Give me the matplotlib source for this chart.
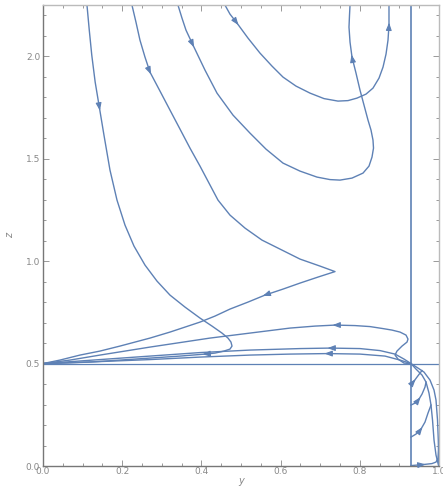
import numpy as np
import matplotlib.pyplot as plt
from matplotlib.ticker import MultipleLocator

# streamlines, points listed in flow direction (y, z)
curve_a = [(0.1111, 2.2488), (0.1169, 2.1268), (0.1232, 2.0049), (0.1318, 1.8732), (0.1427, 1.7463),
           (0.1540, 1.6146), (0.1692, 1.4439), (0.1869, 1.2976), (0.2071, 1.1756), (0.2298, 1.0732),
           (0.2576, 0.9805), (0.2879, 0.9024), (0.3207, 0.8341), (0.3586, 0.7756), (0.3965, 0.7220),
           (0.4268, 0.6829), (0.4520, 0.6488), (0.4672, 0.6244), (0.4747, 0.6049), (0.4773, 0.5854),
           (0.4722, 0.5707), (0.4571, 0.5610), (0.4343, 0.5512), (0.4091, 0.5463), (0.3460, 0.5366),
           (0.2702, 0.5268), (0.1944, 0.5171), (0.1187, 0.5073), (0.0429, 0.5020), (0.0, 0.5)]
curve_b = [(0.2247, 2.2488), (0.2348, 2.1659), (0.2449, 2.0780), (0.2576, 1.9951), (0.2702, 1.9220),
           (0.2955, 1.8293), (0.3207, 1.7366), (0.3460, 1.6439), (0.3712, 1.5512), (0.3965, 1.4634),
           (0.4192, 1.3805), (0.4419, 1.2976), (0.4722, 1.2244), (0.5101, 1.1610), (0.5530, 1.1024),
           (0.6035, 1.0537), (0.6490, 1.0098), (0.6995, 0.9756), (0.7374, 0.9488),
           (0.6944, 0.9220), (0.6490, 0.8927), (0.6061, 0.8634), (0.5606, 0.8341), (0.5177, 0.8000),
           (0.4722, 0.7659), (0.4343, 0.7317), (0.3965, 0.7024), (0.3586, 0.6780), (0.3207, 0.6537),
           (0.2702, 0.6244), (0.2323, 0.6049), (0.1944, 0.5854), (0.1439, 0.5610), (0.0934, 0.5415),
           (0.0429, 0.5171), (0.0, 0.5)]
curve_c = [(0.3409, 2.2488), (0.3510, 2.1854), (0.3611, 2.1268), (0.3788, 2.0537), (0.4091, 1.9317),
           (0.4394, 1.8195), (0.4798, 1.7122), (0.5227, 1.6244), (0.5631, 1.5463), (0.6061, 1.4780),
           (0.6490, 1.4390), (0.6919, 1.4098), (0.7247, 1.3976), (0.7500, 1.3951), (0.7803, 1.4049),
           (0.8081, 1.4293), (0.8232, 1.4634), (0.8308, 1.5073), (0.8346, 1.5512), (0.8333, 1.5902),
           (0.8283, 1.6390), (0.8207, 1.6878), (0.8106, 1.7610), (0.8005, 1.8341), (0.7904, 1.9171),
           (0.7803, 1.9951), (0.7753, 2.0683), (0.7727, 2.1415), (0.7740, 2.2000), (0.7753, 2.2488)]
curve_d = [(0.4596, 2.2488), (0.4722, 2.2049), (0.4899, 2.1610), (0.5177, 2.0878), (0.5480, 2.0146),
           (0.5783, 1.9512), (0.6061, 1.8976), (0.6389, 1.8537), (0.6742, 1.8195), (0.7096, 1.7927),
           (0.7449, 1.7805), (0.7702, 1.7829), (0.7929, 1.7951), (0.8157, 1.8146), (0.8333, 1.8439),
           (0.8485, 1.8927), (0.8586, 1.9463), (0.8662, 2.0098), (0.8712, 2.0780), (0.8737, 2.1512),
           (0.8737, 2.2000), (0.8737, 2.2488)]
curve_f = [(0.9293, 0.5), (0.9116, 0.5024), (0.8965, 0.5220), (0.8889, 0.5415), (0.8939, 0.5610),
           (0.9066, 0.5854), (0.9192, 0.6049), (0.9217, 0.6195), (0.9167, 0.6390), (0.9015, 0.6537),
           (0.8813, 0.6634), (0.8586, 0.6707), (0.8258, 0.6805), (0.7879, 0.6854), (0.7374, 0.6878),
           (0.6869, 0.6829), (0.6237, 0.6732), (0.5227, 0.6488), (0.4217, 0.6244), (0.3207, 0.5951),
           (0.2702, 0.5805), (0.2071, 0.5610), (0.1439, 0.5415), (0.0682, 0.5171), (0.0, 0.5)]
curve_g1 = [(0.9293, 0.5), (0.9116, 0.5220), (0.8889, 0.5463), (0.8510, 0.5634), (0.8005, 0.5732),
            (0.7247, 0.5756), (0.6490, 0.5732), (0.5227, 0.5659), (0.3965, 0.5537), (0.2702, 0.5366),
            (0.1439, 0.5195), (0.0, 0.5)]
curve_g2 = [(0.9293, 0.5), (0.9015, 0.5171), (0.8636, 0.5366), (0.8005, 0.5463), (0.7172, 0.5488),
            (0.6237, 0.5463), (0.5227, 0.5415), (0.3965, 0.5317), (0.2702, 0.5195), (0.1439, 0.5098),
            (0.0, 0.5)]
curve_h1 = [(0.9293, 0.5), (0.9470, 0.4780), (0.9621, 0.4585), (0.9773, 0.4195), (0.9874, 0.3707),
            (0.9924, 0.3220), (0.9962, 0.2244), (0.9982, 0.1268), (0.9992, 0.0)]
curve_h2 = [(0.9293, 0.5), (0.9419, 0.4732), (0.9571, 0.4439), (0.9672, 0.4098), (0.9747, 0.3561),
            (0.9798, 0.2976), (0.9836, 0.2244), (0.9874, 0.1268), (0.9924, 0.0537), (0.9992, 0.0)]
curve_k1 = [(0.9293, 0.4000), (0.9369, 0.4146), (0.9444, 0.4341), (0.9520, 0.4537), (0.9571, 0.4659)]
curve_k2 = [(0.9293, 0.2976), (0.9394, 0.3073), (0.9495, 0.3268), (0.9571, 0.3512), (0.9646, 0.3854),
            (0.9672, 0.4098)]
curve_k3 = [(0.9293, 0.1415), (0.9419, 0.1561), (0.9545, 0.1805), (0.9646, 0.2146), (0.9722, 0.2585),
            (0.9798, 0.2976)]
curve_k4 = [(0.9293, 0.0024), (0.9596, 0.0073), (0.9823, 0.0122), (0.9924, 0.0195), (0.9975, 0.0390),
            (0.9992, 0.0780)]

y_sep = 0.929   # vertical separatrix
z_sep = 0.5     # horizontal separatrix

# (curve, index of point where an arrowhead sits)
arrows = [(curve_a, 4), (curve_a, 23), (curve_b, 4), (curve_b, 22), (curve_c, 3), (curve_c, 25),
          (curve_d, 2), (curve_d, 19), (curve_f, 14), (curve_g1, 5), (curve_g2, 4),
          (curve_k1, 1), (curve_k2, 2), (curve_k3, 2), (curve_k4, 1)]

col = '#5E81B5'
fig = plt.figure(figsize=(4.43, 4.86), dpi=100)
ax = fig.add_axes([0.097, 0.041, 0.894, 0.949])

for c in [curve_a, curve_b, curve_c, curve_d, curve_f, curve_g1, curve_g2,
          curve_h1, curve_h2, curve_k1, curve_k2, curve_k3, curve_k4]:
    p = np.array(c)
    ax.plot(p[:, 0], p[:, 1], color=col, lw=1.0, solid_joinstyle='round')

# pixels per data unit, used to orient the arrowheads
sx, sz = 396.0, 205.0
for c, i in arrows:
    p = np.array(c)
    a = p[max(i - 1, 0)]
    b = p[min(i + 1, len(p) - 1)]
    dx, dz = (b[0] - a[0]) * sx, (b[1] - a[1]) * sz
    n = np.hypot(dx, dz)
    dx, dz = dx / n * 2.5 / sx, dz / n * 2.5 / sz
    ax.annotate('', xy=(p[i][0] + dx, p[i][1] + dz), xytext=(p[i][0] - dx, p[i][1] - dz),
                arrowprops=dict(arrowstyle='-|>,head_length=0.45,head_width=0.17', color=col,
                                lw=0.8, shrinkA=0, shrinkB=0))

ax.axvline(y_sep, color=col, lw=1.2)
ax.axhline(z_sep, color=col, lw=0.9)

ax.set_xlim(0, 1)
ax.set_ylim(0, 2.25)
ax.xaxis.set_major_locator(MultipleLocator(0.2))
ax.xaxis.set_minor_locator(MultipleLocator(0.05))
ax.yaxis.set_major_locator(MultipleLocator(0.5))
ax.yaxis.set_minor_locator(MultipleLocator(0.1))
ax.tick_params(which='both', direction='in', top=True, right=True, colors='#999999',
               labelcolor='#888888', labelsize=6.5, width=0.7)
ax.tick_params(which='major', length=4)
ax.tick_params(which='minor', length=2)
for s in ['left', 'bottom']:
    ax.spines[s].set_color('#777777')
for s in ['top', 'right']:
    ax.spines[s].set_color('#bbbbbb')
for s in ax.spines.values():
    s.set_linewidth(1.0)
ax.tick_params(axis='x', pad=1)
ax.tick_params(axis='y', pad=2)
ax.set_xlabel('y', fontsize=7, color='#888888', style='italic', labelpad=0)
ax.set_ylabel('z', fontsize=7, color='#888888', style='italic', labelpad=8)

fig.savefig('out.png', dpi=100)
